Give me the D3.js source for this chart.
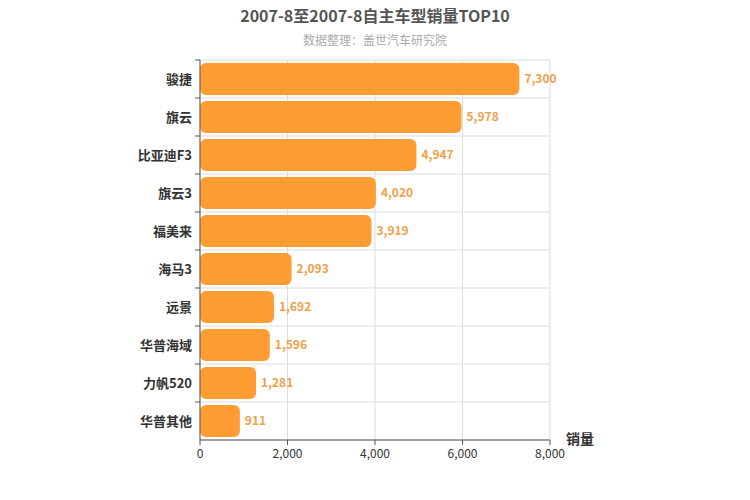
<!DOCTYPE html><html><head><meta charset="utf-8"><script src="https://cdn.jsdelivr.net/npm/d3@7"></script>
<style>body{margin:0;background:#fff}text{font-family:"Noto Sans CJK SC","DejaVu Sans",sans-serif}</style></head><body>
<svg id="c" width="750" height="500"></svg>
<script>
const categories=["骏捷","旗云","比亚迪F3","旗云3","福美来","海马3","远景","华普海域","力帆520","华普其他"];
const values=[7300,5978,4947,4020,3919,2093,1692,1596,1281,911];
const xTicks=[0,2000,4000,6000,8000];
const svg=d3.select("#c");
const L=200,R=550,T=60,B=440;
const x=d3.scaleLinear().domain([0,8000]).range([L,R]);
const y=d3.scaleBand().domain(categories).range([T,B]).paddingInner(0.16).paddingOuter(0.08);
const step=(B-T)/categories.length;
const g=svg.append("g");
xTicks.forEach(t=>g.append("line").attr("x1",x(t)).attr("x2",x(t)).attr("y1",T).attr("y2",B).attr("stroke","#ddd"));
for(let i=0;i<=categories.length;i++)g.append("line").attr("x1",L).attr("x2",R).attr("y1",T+i*step).attr("y2",T+i*step).attr("stroke","#ddd");
g.selectAll("rect.b").data(values).join("rect").attr("x",L).attr("y",(d,i)=>y(categories[i])).attr("width",d=>x(d)-L).attr("height",y.bandwidth()).attr("rx",6).attr("fill","#ff9c33");
g.selectAll("text.v").data(values).join("text").attr("x",d=>x(d)+5).attr("y",(d,i)=>y(categories[i])+y.bandwidth()/2+4).attr("font-size",12).attr("font-weight","bold").attr("fill","#f0a04b").text(d=>d3.format(",")(d));
g.append("line").attr("x1",L).attr("x2",L).attr("y1",T).attr("y2",B).attr("stroke","#555");
g.append("line").attr("x1",L).attr("x2",R).attr("y1",B).attr("y2",B).attr("stroke","#555");
categories.forEach((c,i)=>{g.append("line").attr("x1",L-5).attr("x2",L).attr("y1",T+i*step).attr("y2",T+i*step).attr("stroke","#555");
g.append("text").attr("x",L-8).attr("y",y(c)+y.bandwidth()/2+5).attr("text-anchor","end").attr("font-size",13).attr("font-weight","bold").attr("fill","#333").text(c);});
xTicks.forEach(t=>{g.append("line").attr("x1",x(t)).attr("x2",x(t)).attr("y1",B).attr("y2",B+5).attr("stroke","#555");
g.append("text").attr("x",x(t)).attr("y",B+18).attr("text-anchor","middle").attr("font-size",12).attr("fill","#333").text(d3.format(",")(t));});
svg.append("text").attr("x",580).attr("y",444).attr("text-anchor","middle").attr("font-size",14).attr("font-weight","bold").attr("fill","#333").text("销量");
svg.append("text").attr("x",375).attr("y",22).attr("text-anchor","middle").attr("font-size",16).attr("font-weight","bold").attr("fill","#555").text("2007-8至2007-8自主车型销量TOP10");
svg.append("text").attr("x",375).attr("y",45).attr("text-anchor","middle").attr("font-size",12).attr("fill","#aaa").text("数据整理：盖世汽车研究院");
</script></body></html>
